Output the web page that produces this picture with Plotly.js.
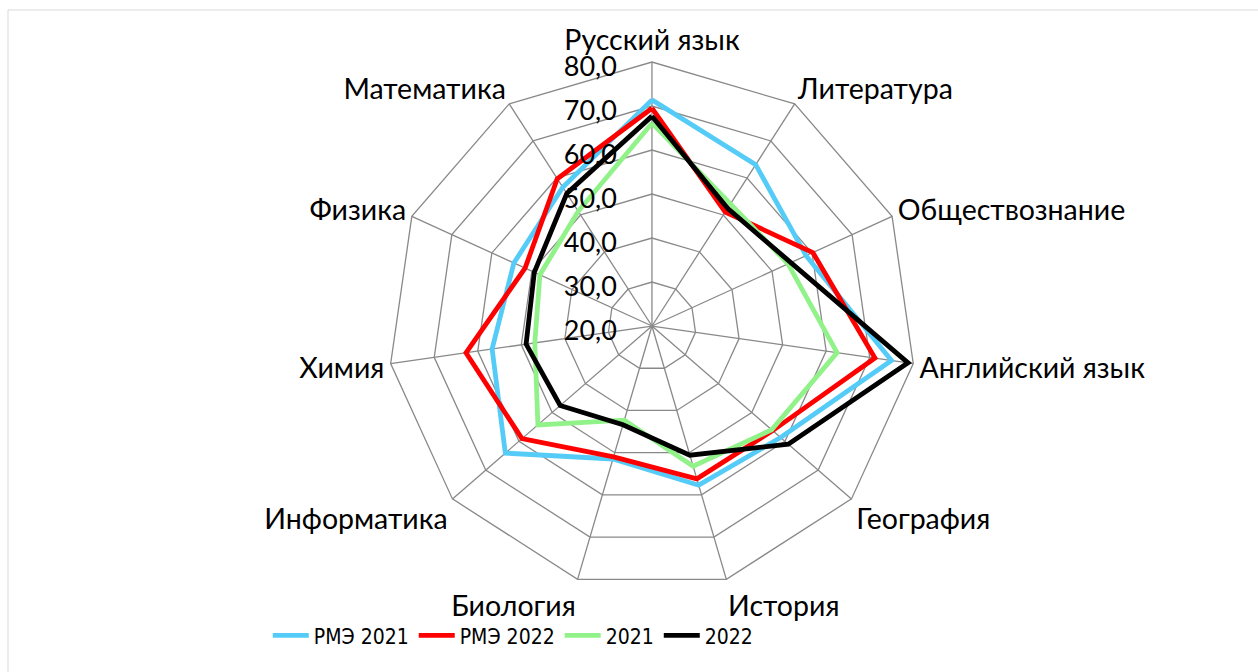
<!DOCTYPE html>
<html>
<head>
<meta charset="utf-8">
<script src="https://cdn.plot.ly/plotly-3.0.1.min.js"></script>
<style>
  html, body { margin: 0; padding: 0; background: #fff; }
  #chart { width: 1258px; height: 672px; }
</style>
</head>
<body>
<div id="chart"></div>
<script>
const categories = ["Русский язык", "Литература", "Обществознание", "Английский язык", "География", "История", "Биология", "Информатика", "Химия", "Физика", "Математика"];
const seriesNames = ["РМЭ 2021", "РМЭ 2022", "2021", "2022"];
const rme2021 = [71.4, 63.6, 58.5, 75.0, 58.7, 57.7, 51.5, 64.1, 56.7, 54.5, 57.5];
const rme2022 = [69.5, 50.8, 60.2, 71.2, 56.3, 56.2, 51.0, 59.1, 62.7, 51.7, 59.8];
const y2021 = [66.1, 53.0, 54.0, 62.5, 56.0, 53.2, 42.3, 54.3, 46.9, 48.0, 51.0];
const y2022 = [67.7, 51.8, 54.7, 78.8, 61.0, 50.6, 43.4, 47.6, 48.9, 49.4, 55.8];
const radialTicks = [20, 30, 40, 50, 60, 70, 80];
const radialTickText = radialTicks.map(v =>
  v.toFixed(1).replace(".", ",") + "<span style='color:rgba(0,0,0,0)'>0</span>");

const seriesValues = [rme2021, rme2022, y2021, y2022];
const colors = ["#55CCF7", "#FF0000", "#92F28A", "#000000"];
const FONT = "Lato, 'Noto Sans', sans-serif";
const NARROW = "'Liberation Sans Narrow', 'DejaVu Sans Condensed', Lato, sans-serif";

const traces = seriesValues.map((vals, i) => ({
  type: "scatterpolar",
  mode: "lines",
  name: seriesNames[i],
  r: vals.concat([vals[0]]),
  theta: categories.concat([categories[0]]),
  line: { color: colors[i], width: 4.8 },
  hoverinfo: "skip"
}));

const layout = {
  width: 1258,
  height: 672,
  margin: { l: 0, r: 0, t: 0, b: 0 },
  paper_bgcolor: "#ffffff",
  separators: ", ",
  font: { family: FONT, size: 28, color: "#000000" },
  showlegend: true,
  legend: {
    orientation: "h",
    x: 0.408, xanchor: "center",
    y: 0.054, yanchor: "middle",
    bgcolor: "rgba(0,0,0,0)",
    font: { family: NARROW, size: 21, color: "#000" },
    itemwidth: 36,
    traceorder: "normal"
  },
  polar: {
    domain: { x: [0.3084, 0.7281], y: [0.122, 0.9077] },
    gridshape: "linear",
    bgcolor: "rgba(0,0,0,0)",
    angularaxis: {
      type: "category",
      categoryarray: categories,
      rotation: 90,
      direction: "clockwise",
      ticks: "",
      showline: true,
      linecolor: "#898989",
      linewidth: 1.3,
      gridcolor: "#898989",
      gridwidth: 1.3,
      tickfont: { family: FONT, size: 28.5, color: "#000" }
    },
    radialaxis: {
      range: [20, 80],
      tickmode: "array",
      tickvals: radialTicks,
      ticktext: radialTickText,
      angle: 90,
      side: "counterclockwise",
      ticks: "",
      showline: false,
      gridcolor: "#898989",
      gridwidth: 1.3,
      tickfont: { family: FONT, size: 27, color: "#000" }
    }
  },
  shapes: [{
    type: "rect", xref: "paper", yref: "paper",
    x0: 8 / 1258, x1: 1.02, y0: -0.02, y1: 1 - 10 / 672,
    line: { color: "#D9D9D9", width: 1 }
  }]
};

Plotly.newPlot("chart", traces, layout, { displayModeBar: false, staticPlot: true });
</script>
</body>
</html>
